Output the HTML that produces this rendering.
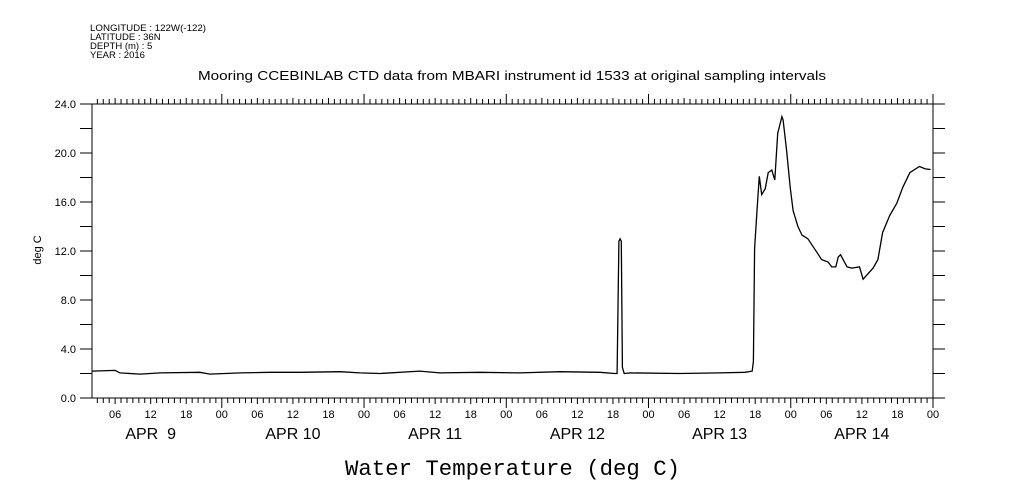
<!DOCTYPE html>
<html><head><meta charset="utf-8"><style>
body{margin:0;background:#fff;}
svg{display:block;font-family:"Liberation Sans",sans-serif;}
</style></head><body>
<svg id="chart" width="1009" height="504" viewBox="0 0 1009 504">
<g font-size="9.5" fill="#000">
<text x="90" y="31" textLength="116" lengthAdjust="spacingAndGlyphs">LONGITUDE : 122W(-122)</text>
<text x="90" y="40">LATITUDE : 36N</text>
<text x="90" y="49">DEPTH (m) : 5</text>
<text x="90" y="58">YEAR : 2016</text>
</g>
<text x="198" y="80" font-size="13" textLength="628" lengthAdjust="spacingAndGlyphs">Mooring CCEBINLAB CTD data from MBARI instrument id 1533 at original sampling intervals</text>
<text x="0" y="0" font-size="11" text-anchor="middle" transform="translate(41,250) rotate(-90)">deg C</text>
<text x="345" y="475" font-size="22" textLength="335" lengthAdjust="spacingAndGlyphs" font-family="Liberation Mono, monospace">Water Temperature (deg C)</text>
<g id="axes"></g>
<path id="line" fill="none" stroke="#000" stroke-width="1.3"/>
</svg>
<script>
const hours=[2.1,6.0,6.8,10.2,13.6,20.3,22.0,27.1,32.1,37.2,44.0,47.3,50.7,57.4,60.8,67.6,74.3,81.1,87.8,90.3,90.7,91.0,91.2,91.4,91.6,91.9,92.9,101.3,108.0,112.3,113.5,113.7,113.9,114.3,114.7,115.1,115.7,116.2,116.8,117.3,117.8,118.5,118.7,119.3,119.9,120.4,121.2,121.9,122.9,124.4,125.2,126.3,126.9,127.6,128.0,128.4,129.5,130.3,131.6,132.2,133.9,134.7,135.5,136.7,137.9,138.9,140.1,141.7,142.7,143.6];
const temps=[2.2,2.25,2.05,1.95,2.05,2.1,1.95,2.05,2.1,2.1,2.15,2.05,2.0,2.2,2.05,2.1,2.05,2.15,2.1,2.0,2.0,12.8,13.0,12.8,2.5,2.0,2.05,2.0,2.05,2.1,2.2,3.0,12.2,15.3,18.1,16.6,17.1,18.4,18.6,17.8,21.6,22.96,22.7,20.2,17.2,15.3,14.0,13.3,13.0,11.9,11.3,11.1,10.7,10.7,11.5,11.7,10.7,10.6,10.7,9.7,10.6,11.3,13.5,14.9,15.9,17.2,18.4,18.9,18.7,18.65];
const yTicks=[0,4,8,12,16,20,24];
const hourLabels=["00","06","12","18"];
const dayLabels=["APR  9","APR 10","APR 11","APR 12","APR 13","APR 14"];
const L=92,R=933,T=104,B=398,H0=2.1,H1=144,YMAX=24;
const xs=h=>L+(h-H0)*(R-L)/(H1-H0);
const ys=v=>B-v*(B-T)/YMAX;
const NS="http://www.w3.org/2000/svg";
const g=document.getElementById('axes');
function mk(tag,a){const e=document.createElementNS(NS,tag);for(const k in a)e.setAttribute(k,a[k]);g.appendChild(e);return e;}
let d="M"+L+" "+T+"H"+R+"V"+B+"H"+L+"Z";
for(let v=0;v<=YMAX;v+=2){const y=ys(v);d+="M"+(L-12)+" "+y+"H"+L+"M"+R+" "+y+"H"+(R+12);}
for(let h=Math.ceil(H0);h<=H1;h++){const x=xs(h);const len=h%24===0?10:(h%6===0?6:5);d+="M"+x+" "+B+"v"+len+"M"+x+" "+T+"v"+(-len);}
const frame=mk('path',{d:d,stroke:'#000','stroke-width':1,fill:'none'});


yTicks.forEach(v=>{const t=mk('text',{x:76,y:ys(v)+4,'font-size':11,'text-anchor':'end'});t.textContent=v.toFixed(1);

});
for(let h=6;h<=H1;h+=6){const t=mk('text',{x:xs(h),y:418,'font-size':11,'text-anchor':'middle'});t.textContent=hourLabels[(h%24)/6];

}
dayLabels.forEach((s,i)=>{const t=mk('text',{x:xs(i*24+12),y:439,'font-size':16,'text-anchor':'middle'});t.textContent=s;t.style.whiteSpace='pre';

});
document.getElementById('line').setAttribute('d',hours.map((h,i)=>(i?"L":"M")+xs(h).toFixed(1)+" "+ys(temps[i]).toFixed(1)).join(""));
</script>
</body></html>
